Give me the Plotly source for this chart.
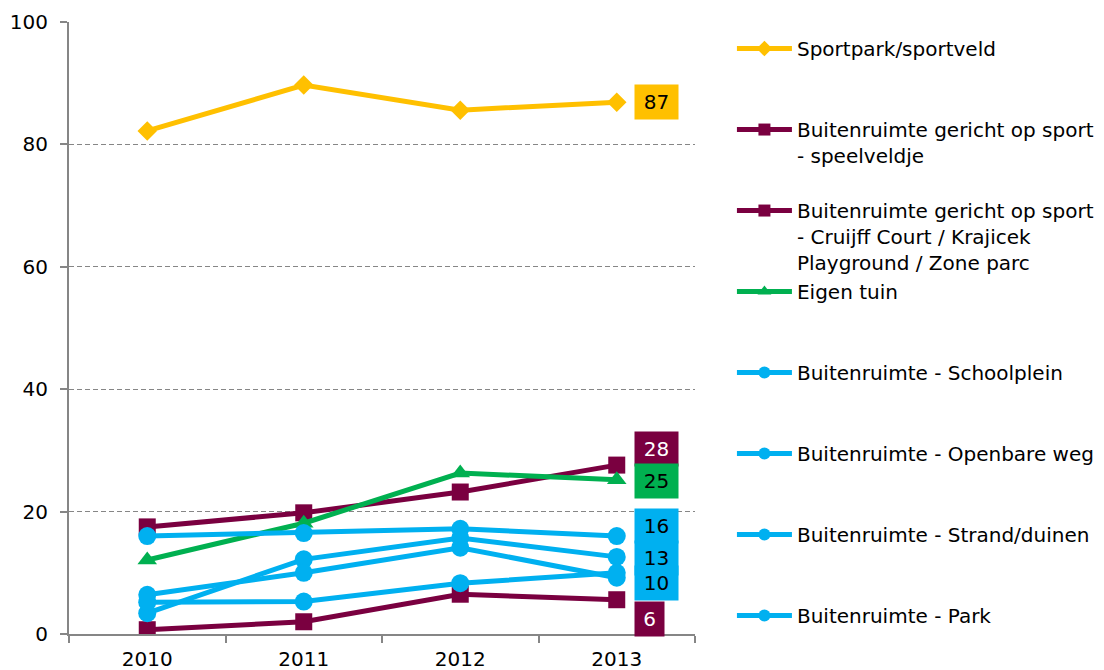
import plotly.graph_objects as go

YEARS = [2010, 2011, 2012, 2013]

SERIES_NAMES = [
    "Sportpark/sportveld",
    "Buitenruimte gericht op sport<br>- speelveldje",
    "Buitenruimte gericht op sport<br>- Cruijff Court / Krajicek<br>Playground / Zone parc",
    "Eigen tuin",
    "Buitenruimte - Schoolplein",
    "Buitenruimte - Openbare weg",
    "Buitenruimte - Strand/duinen",
    "Buitenruimte - Park",
]

sportpark = [82.2, 89.7, 85.6, 86.9]
speelveldje = [17.5, 19.8, 23.2, 27.6]
cruijff_court = [0.7, 2.0, 6.5, 5.6]
eigen_tuin = [12.1, 18.1, 26.3, 25.2]
schoolplein = [16.0, 16.5, 17.2, 16.0]
openbare_weg = [3.4, 12.2, 15.7, 12.6]
strand_duinen = [6.4, 10.0, 14.1, 9.2]
park = [5.2, 5.3, 8.3, 10.0]

GOLD = "#FFC000"
MAROON = "#7A0040"
GREEN = "#00B050"
BLUE = "#00B0F0"
AXIS_GREY = "#868686"

FONT = "DejaVu Sans"

# (values, colour, marker symbol, marker size, label text colour, label nudge px)
styles = [
    (sportpark, GOLD, "diamond", 15, "black", 0),
    (speelveldje, MAROON, "square", 17, "white", 16),
    (cruijff_court, MAROON, "square", 17, "white", -19),
    (eigen_tuin, GREEN, "triangle-up", 17, "black", -1),
    (schoolplein, BLUE, "circle", 18, "black", 10),
    (openbare_weg, BLUE, "circle", 18, "black", -1),
    (strand_duinen, BLUE, "circle", 18, "black", None),  # label hidden behind "10"
    (park, BLUE, "circle", 18, "black", -10),
]

fig = go.Figure()

n_series = len(SERIES_NAMES)
for i, (name, (vals, color, symbol, msize, _, _)) in enumerate(zip(SERIES_NAMES, styles)):
    # pad legend text so every entry (but the last) takes three lines
    n_lines = name.count("<br>") + 1
    legend_text = name if i == n_series - 1 else name + "<br> " * (3 - n_lines)
    fig.add_trace(go.Scatter(
        x=YEARS, y=vals, name=legend_text, mode="lines+markers",
        legendgroup=f"g{i}",
        line=dict(color=color, width=5),
        marker=dict(symbol=symbol, size=msize, color=color),
        hovertemplate=name.replace("<br>", " ") + " %{x}: %{y:.1f}<extra></extra>",
    ))

# value labels at the last point
for vals, color, _, _, txt_color, nudge in styles:
    if nudge is None:
        continue
    txt = f"{vals[-1]:.0f}"
    fig.add_annotation(
        x=YEARS[-1], y=vals[-1], xref="x", yref="y",
        text=txt, showarrow=False,
        xanchor="left", yanchor="middle",
        xshift=17, yshift=nudge,
        width=33 if len(txt) == 2 else 19, height=24,
        bgcolor=color, borderpad=5,
        font=dict(family=FONT, size=20, color=txt_color),
    )

fig.update_layout(
    width=1104, height=670,
    margin=dict(l=69, r=409, t=22, b=36, autoexpand=False),
    plot_bgcolor="white", paper_bgcolor="white",
    font=dict(family=FONT, size=20, color="black"),
    showlegend=True,
    legend=dict(
        x=1.059, y=0.9885, xanchor="left", yanchor="top",
        valign="top", tracegroupgap=0, itemsizing="constant",
        itemwidth=55,
        font=dict(family=FONT, size=20, color="black"),
        bgcolor="rgba(0,0,0,0)",
    ),
    hovermode="closest",
)

fig.update_xaxes(
    range=[2009.5, 2013.5], automargin=False,
    tickvals=YEARS, ticktext=[str(y) for y in YEARS],
    ticks="", showgrid=False, zeroline=False,
    showline=True, linecolor=AXIS_GREY, linewidth=2,
    ticklabelstandoff=6,
    minor=dict(tick0=2009.5, dtick=1, ticks="outside", ticklen=7,
               tickcolor=AXIS_GREY, tickwidth=2, showgrid=False),
    tickfont=dict(family=FONT, size=20, color="black"),
)
fig.update_yaxes(
    range=[0, 100], dtick=20, automargin=False,
    ticks="outside", ticklen=7, tickcolor=AXIS_GREY, tickwidth=2,
    showgrid=True, gridcolor=AXIS_GREY, griddash="5px,3px", gridwidth=1,
    zeroline=False, ticklabelstandoff=8,
    showline=True, linecolor=AXIS_GREY, linewidth=2,
    tickfont=dict(family=FONT, size=20, color="black"),
)

# drop the default page margin so the figure sits at the window's corner
fig.write_html(
    "out.html",
    config={"displayModeBar": False},
    post_script="document.body.style.margin='0';document.body.style.overflow='hidden';",
)
